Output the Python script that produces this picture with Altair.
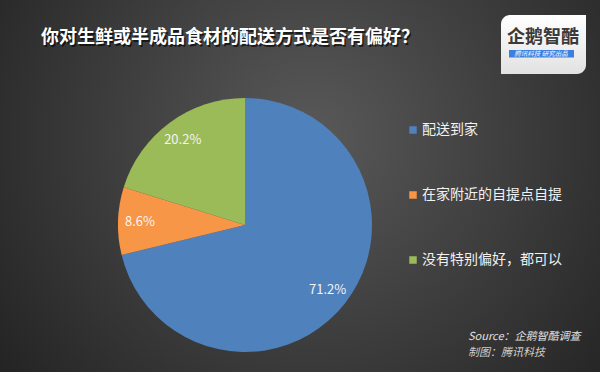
import altair as alt
import pandas as pd

# ---- data ----
categories = ["配送到家", "在家附近的自提点自提", "没有特别偏好，都可以"]
values = [71.2, 8.6, 20.2]
labels = ["71.2%", "8.6%", "20.2%"]
colors = ["#4F81BD", "#F79646", "#9BBB59"]

title_text = "你对生鲜或半成品食材的配送方式是否有偏好？"
source_lines = ["Source：企鹅智酷调查", "制图：腾讯科技"]
logo_main = "企鹅智酷"
logo_sub = "腾讯科技  研究出品"

FONT = "Noto Sans CJK SC"
W, H = 600, 372

df = pd.DataFrame({"cat": categories, "val": values, "lab": labels, "idx": list(range(len(categories)))})
one = pd.DataFrame({"k": [0]})

# background radial gradient
bg = alt.Chart(one).mark_rect(
    fill=alt.RadialGradient(
        gradient="radial",
        stops=[alt.GradientStop(offset=0, color="#595959"),
               alt.GradientStop(offset=1, color="#1c1c1c")],
        x1=0.52, y1=0.42, r1=0, x2=0.52, y2=0.42, r2=0.74,
    )
).encode(x=alt.value(0), x2=alt.value(W), y=alt.value(0), y2=alt.value(H))

base = alt.Chart(df).encode(
    theta=alt.Theta("val:Q", stack=True, scale=alt.Scale(type="linear", zero=True)),
    order=alt.Order("idx:Q"),
)

pie = base.mark_arc(outerRadius=127).encode(
    x=alt.value(245), y=alt.value(225),
    color=alt.Color(
        "cat:N",
        scale=alt.Scale(domain=categories, range=colors),
        sort=categories,
        legend=alt.Legend(
            orient="none", legendX=406, legendY=123, title=None,
            symbolType="square", symbolSize=56, symbolStrokeWidth=0, symbolOpacity=1,
            labelFontSize=14, labelColor="#f2f2f2", labelFont=FONT,
            rowPadding=51, labelOffset=2, padding=0,
        ),
    ),
)

pie_labels = base.mark_text(radius=105, fontSize=13, font=FONT, color="#f4f4f4").encode(
    x=alt.value(245), y=alt.value(225), text="lab:N"
)

def txt(t, x, y, **kw):
    return alt.Chart(pd.DataFrame({"t": [t]})).mark_text(**kw).encode(
        x=alt.value(x), y=alt.value(y), text="t:N")

title_shadow = txt(title_text, 231.5, 39.5, font=FONT, fontSize=18, fontWeight="bold",
                   color="#000000", opacity=0.6, align="center", baseline="middle")
title = txt(title_text, 230, 38, font=FONT, fontSize=18, fontWeight="bold",
            color="#ffffff", align="center", baseline="middle")

src1 = txt(source_lines[0], 468, 337, font=FONT, fontSize=11, fontStyle="italic",
           color="#e0e0e0", align="left", baseline="middle")
src2 = txt(source_lines[1], 468, 353, font=FONT, fontSize=11, fontStyle="italic",
           color="#cfcfcf", align="left", baseline="middle")

# logo
logo_box = alt.Chart(one).mark_rect(
    fill=alt.LinearGradient(
        gradient="linear",
        stops=[alt.GradientStop(offset=0, color="#ffffff"),
               alt.GradientStop(offset=1, color="#e2e2e2")],
        x1=0, y1=0, x2=0, y2=1,
    ),
    cornerRadiusTopLeft=9, cornerRadiusBottomRight=9,
).encode(x=alt.value(501), x2=alt.value(586), y=alt.value(15), y2=alt.value(74))
logo_bar = alt.Chart(one).mark_rect(color="#3d7fe0").encode(
    x=alt.value(509), x2=alt.value(574), y=alt.value(50), y2=alt.value(57.5))
logo_t = txt(logo_main, 543, 38, font=FONT, fontSize=18, fontWeight="bold", color="#3a3a3a",
             align="center", baseline="middle")
logo_s = txt(logo_sub, 541, 54, font=FONT, fontSize=6.5, fontStyle="italic",
             color="#ffffff", align="center", baseline="middle")

chart = alt.layer(
    bg, pie, pie_labels, title_shadow, title, src1, src2, logo_box, logo_bar, logo_t, logo_s
).resolve_scale(color="independent").properties(
    width=W, height=H, padding=0, autosize=alt.AutoSizeParams(type="none"),
    background="#2a2a2a",
).configure_view(stroke=None)

chart.save("out.html", embed_options={"renderer": "svg", "actions": False})
